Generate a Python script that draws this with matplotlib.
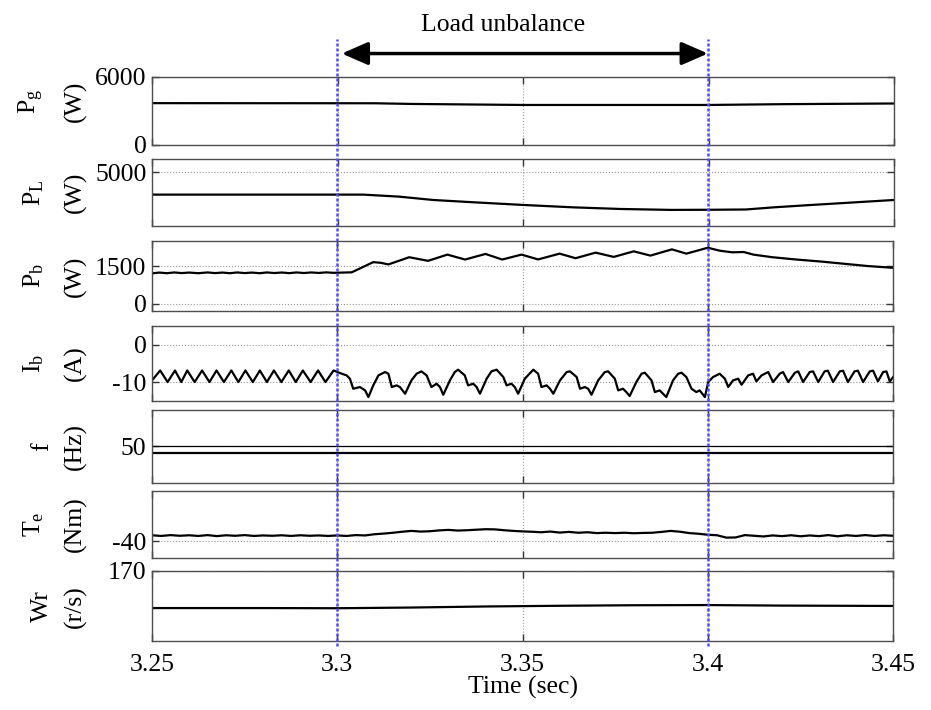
"""Load unbalance transient - stacked panels"""
import numpy as np
import matplotlib
matplotlib.use("Agg")
from matplotlib import pyplot as plt
from matplotlib import transforms
from matplotlib.lines import Line2D

plt.rcParams["font.family"] = ["Liberation Serif", "DejaVu Serif"]
plt.rcParams["mathtext.fontset"] = "custom"
plt.rcParams["mathtext.rm"] = "Liberation Serif"
plt.rcParams["axes.unicode_minus"] = False

FS = 18.5

x_ticks = [3.25, 3.3, 3.35, 3.4, 3.45]
x_tick_labels = ["3.25", "3.3", "3.35", "3.4", "3.45"]
event_times = [3.3, 3.4]

# grid power
pg_t = [3.25, 3.31, 3.32, 3.34, 3.35, 3.40, 3.42, 3.45]
pg_v = [3690, 3680, 3620, 3560, 3530, 3530, 3600, 3660]

# load power
pl_t = [3.25, 3.307, 3.3166, 3.3258, 3.3366, 3.35, 3.3636, 3.3762, 3.39,
        3.40, 3.41, 3.4175, 3.4266, 3.4356, 3.45]
pl_v = [3340, 3340, 3190, 2940, 2770, 2570, 2390, 2270, 2200,
        2210, 2230, 2390, 2550, 2700, 2940]

# battery power
pb_t = [3.250, 3.252, 3.254, 3.256, 3.258, 3.260, 3.2625, 3.265, 3.267, 3.269,
        3.271, 3.273, 3.275, 3.277, 3.279, 3.281, 3.283, 3.285, 3.287, 3.289,
        3.291, 3.293, 3.295, 3.297, 3.299, 3.3039, 3.3097, 3.3117, 3.3138,
        3.3194, 3.3245, 3.3297, 3.3345, 3.34, 3.3445, 3.3497, 3.3542, 3.36,
        3.3643, 3.3697, 3.3746, 3.38, 3.3845, 3.3903, 3.3942, 3.40, 3.4032,
        3.4065, 3.4097, 3.4123, 3.4174, 3.4239, 3.4303, 3.4368, 3.4432, 3.45]
pb_v = [1210, 1240, 1215, 1245, 1220, 1240, 1215, 1245, 1220, 1240,
        1215, 1245, 1220, 1240, 1215, 1245, 1222, 1242, 1218, 1245,
        1222, 1245, 1225, 1248, 1230, 1250, 1656, 1630, 1565,
        1852, 1708, 1956, 1760, 1983, 1760, 1956, 1765, 1995,
        1813, 2035, 1865, 2087, 1917, 2165, 1995, 2230, 2113,
        2048, 2060, 1956, 1852, 1760, 1683, 1591, 1500, 1430]

# battery current
ib_t = [3.2500, 3.2522, 3.2542, 3.2562, 3.2579, 3.2595, 3.2615, 3.2635, 3.2655,
        3.2674, 3.2694, 3.2714, 3.2733, 3.2752, 3.2772, 3.2791, 3.2810, 3.2829,
        3.2849, 3.2869, 3.2888, 3.2907, 3.2928, 3.2948, 3.2968, 3.2990, 3.3012,
        3.3025, 3.3034, 3.3043, 3.3061, 3.3075, 3.3084, 3.3097, 3.3111, 3.3129,
        3.3138, 3.3147, 3.3160, 3.3169, 3.3183, 3.3200, 3.3214, 3.3227, 3.3241,
        3.3254, 3.3268, 3.3277, 3.3286, 3.3304, 3.3317, 3.3326, 3.3344, 3.3353,
        3.3367, 3.3376, 3.3385, 3.3403, 3.3416, 3.3430, 3.3448, 3.3457, 3.3470,
        3.3479, 3.3488, 3.3506, 3.3529, 3.3542, 3.3551, 3.3565, 3.3574, 3.3583,
        3.3601, 3.3619, 3.3628, 3.3646, 3.3655, 3.3668, 3.3677, 3.3686, 3.3704,
        3.3722, 3.3731, 3.3749, 3.3758, 3.3771, 3.3780, 3.3789, 3.3807, 3.3821,
        3.3830, 3.3848, 3.3857, 3.3870, 3.3879, 3.3888, 3.3906, 3.3920, 3.3929,
        3.3942, 3.3956, 3.3969, 3.3978, 3.3992, 3.4001, 3.4014, 3.4032, 3.4046,
        3.4055, 3.4068, 3.4082, 3.4091, 3.4109, 3.4122, 3.4131, 3.4145, 3.4163,
        3.4176, 3.4194, 3.4203, 3.4217, 3.4235, 3.4244, 3.4257, 3.4275, 3.4284,
        3.4298, 3.4315, 3.4324, 3.4338, 3.4356, 3.4365, 3.4378, 3.4396, 3.4405,
        3.4419, 3.4437, 3.4446, 3.4459, 3.4473, 3.4482, 3.4491, 3.4500]
ib_v = [-9.55, -6.9, -10.0, -6.9, -10.0, -6.9, -10.0, -6.9, -10.0,
        -6.9, -10.0, -6.9, -10.0, -6.9, -10.0, -6.9, -10.0, -6.9,
        -10.0, -6.9, -10.0, -6.9, -10.0, -6.9, -10.0, -6.9, -7.77,
        -8.21, -9.11, -11.79, -11.34, -12.23, -14.02, -10.89, -8.21, -7.32,
        -7.77, -11.34, -10.89, -11.34, -13.13, -9.55, -7.77, -7.14, -8.21,
        -11.34, -10.45, -11.34, -13.40, -9.55, -7.32, -6.69, -8.21, -10.89,
        -10.45, -11.34, -13.13, -9.11, -7.14, -6.69, -8.66, -10.89, -10.45,
        -11.34, -13.13, -9.11, -6.69, -7.77, -11.34, -10.89, -11.79, -13.13,
        -9.55, -7.32, -7.14, -8.66, -11.79, -11.34, -11.79, -13.40, -9.55,
        -7.32, -7.14, -9.11, -12.23, -11.79, -12.68, -13.75, -10.0, -7.77,
        -7.50, -9.55, -12.68, -12.23, -13.13, -14.02, -9.55, -7.77, -7.50,
        -8.66, -11.79, -12.68, -12.23, -14.02, -10.0, -8.66, -7.77, -9.11,
        -11.34, -9.55, -9.11, -10.72, -8.21, -7.77, -9.82, -8.21, -7.32,
        -10.0, -7.77, -7.32, -10.0, -7.50, -7.14, -10.0, -7.32, -7.14,
        -10.0, -7.14, -6.96, -10.0, -7.14, -6.96, -10.0, -7.14, -6.96,
        -10.0, -7.14, -6.96, -9.82, -7.32, -7.14, -9.82, -8.66]

# frequency
f_t = [3.25, 3.45]
f_v = [49.82, 49.82]
f_ref = [50.0, 50.0]

# electromagnetic torque, sampled every 2.5 ms
te_v = [-36.5, -36.9, -36.4, -36.8, -36.5, -36.9, -36.4, -37.0, -36.5, -36.8,
        -36.4, -36.9, -36.6, -36.8, -36.5, -36.9, -36.5, -36.8, -36.6, -36.9,
        -36.6, -36.9, -36.4, -36.6, -35.9, -35.5, -35.0, -34.4, -33.9, -34.3,
        -34.1, -33.6, -33.3, -33.7, -33.5, -33.2, -32.9, -33.0, -33.5, -33.9,
        -34.2, -34.4, -34.7, -34.3, -34.9, -34.5, -35.0, -34.7, -35.2, -35.0,
        -35.2, -35.0, -35.3, -35.1, -35.0, -34.5, -33.9, -34.4, -35.2, -35.6,
        -36.2, -36.5, -37.9, -37.8, -36.4, -36.8, -37.2, -36.6, -37.0, -36.5,
        -37.1, -36.6, -37.0, -36.4, -37.1, -36.5, -36.9, -36.4, -36.9, -36.5,
        -36.8]
te_t = np.linspace(3.25, 3.45, len(te_v))

# rotor speed
wr_t = [3.25, 3.28, 3.30, 3.32, 3.34, 3.36, 3.38, 3.40, 3.42, 3.45]
wr_v = [159.45, 159.45, 159.4, 159.6, 159.9, 160.1, 160.25, 160.3, 160.15, 160.05]

panels = [
    (r"$\mathrm{P_g}$" + "\n(W)", pg_t, pg_v, (0, 6000), [0, 6000], ["0", "6000"]),
    (r"$\mathrm{P_L}$" + "\n(W)", pl_t, pl_v, (1000, 6000), [5000], ["5000"]),
    (r"$\mathrm{P_b}$" + "\n(W)", pb_t, pb_v, (-280, 2500), [0, 1500], ["0", "1500"]),
    (r"$\mathrm{I_b}$" + "\n(A)", ib_t, ib_v, (-15, 5), [-10, 0], ["-10", "0"]),
    ("f\n(Hz)", f_t, f_v, (49, 51), [50], ["50"]),
    (r"$\mathrm{T_e}$" + "\n(Nm)", te_t, te_v, (-50, -10), [-40], ["-40"]),
    ("Wr\n(r/s)", wr_t, wr_v, (150, 170), [170], ["170"]),
]
label_spacing = [2.0, 2.0, 2.0, 2.0, 1.6, 2.0, 1.6]
label_y = [0.64, 0.5, 0.5, 0.5, 0.5, 0.5, 0.5]

# [left, bottom, width, height] in figure fraction
positions = [
    [0.1633, 0.7958, 0.7970, 0.0958],
    [0.1633, 0.6817, 0.7970, 0.0944],
    [0.1633, 0.5624, 0.7960, 0.0982],
    [0.1633, 0.4356, 0.7960, 0.1052],
    [0.1633, 0.3201, 0.7960, 0.1024],
    [0.1633, 0.2141, 0.7960, 0.0948],
    [0.1633, 0.0968, 0.7960, 0.0990],
]

fig = plt.figure(figsize=(9.31, 7.10), dpi=100)
axes = []
for (label, t, v, ylim, yt, ytl), pos, ls, ly in zip(panels, positions, label_spacing, label_y):
    ax = fig.add_axes(pos)
    ax.plot(t, v, color="black", lw=1.6)
    ax.set_xlim(x_ticks[0], x_ticks[-1])
    ax.set_ylim(*ylim)
    ax.set_xticks(x_ticks)
    ax.set_yticks(yt)
    ax.set_yticklabels(ytl)
    ax.grid(True, linestyle=":", color="0.6", lw=0.8)
    ax.tick_params(direction="in", top=True, right=True, length=5, width=1,
                   labelsize=FS, pad=4, color="0.2")
    ax.tick_params(axis="x", labelbottom=False)
    for sp in ax.spines.values():
        sp.set_color("0.3")
        sp.set_linewidth(1.0)
    ax.set_ylabel(label, fontsize=FS, linespacing=ls)
    ax.yaxis.set_label_coords(-0.088, ly)
    axes.append(ax)

axes[4].plot(f_t, f_ref, color="black", lw=0.9)

bottom = axes[-1]
bottom.tick_params(axis="x", labelbottom=True, pad=9)
bottom.set_xticklabels(x_tick_labels)
bottom.set_xlabel("Time (sec)", fontsize=FS, labelpad=0)

# event markers across all panels
blend = transforms.blended_transform_factory(bottom.transData, fig.transFigure)
for et in event_times:
    fig.add_artist(Line2D([et, et], [0.090, 0.945], transform=blend,
                          color=(0.3, 0.3, 1.0), lw=1.8,
                          linestyle=(0, (1.2, 0.8)), zorder=10))

axes[0].annotate("", xy=(event_times[1], 0.9246), xytext=(event_times[0] + 0.0012, 0.9246),
                 xycoords=blend, textcoords=blend, annotation_clip=False,
                 arrowprops=dict(arrowstyle="<|-|>,head_length=0.8,head_width=0.35",
                                 lw=2.5, color="black", shrinkA=0, shrinkB=0,
                                 mutation_scale=20))
fig.text(0.540, 0.956, "Load unbalance", fontsize=FS, ha="center", va="baseline")

plt.savefig("out.png", dpi=100)
plt.close()
